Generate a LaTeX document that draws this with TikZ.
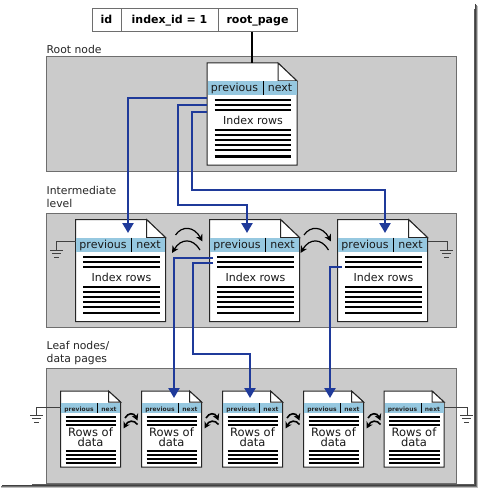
\documentclass[tikz,border=0pt]{standalone}
\usepackage{fontspec}
\setmainfont{DejaVu Sans}
\usetikzlibrary{arrows.meta}
\definecolor{panelgray}{HTML}{CBCBCB}
\definecolor{bandblue}{HTML}{96C8E0}
\definecolor{linkblue}{HTML}{1F3A9A}
\definecolor{edgegray}{HTML}{6E6E6E}
\tikzset{
  panel/.style={draw=edgegray,line width=1pt,fill=panelgray},
  pagebody/.style={draw=black!85,line width=1pt,fill=white,line join=miter},
  band/.style={fill=bandblue,draw=none},
  rowline/.style={draw=black,line width=2pt},
  leafrow/.style={draw=black,line width=1.8pt},
  link/.style={draw=linkblue,line width=2.4pt,-{Triangle[length=10pt,width=11pt]}},
  bond/.style={draw=black,line width=1.2pt,-{Stealth[length=7pt,width=7pt]}},
  leafbond/.style={draw=black,line width=1.6pt,-{Stealth[length=6.5pt,width=7pt]}},
  wire/.style={draw=black!75,line width=1pt},
  tablecell/.style={draw=edgegray,line width=1pt,fill=white,minimum height=22.5pt,inner sep=0pt,text height=9pt,text depth=2pt,font=\fontsize{11}{12}\selectfont\bfseries},
  label/.style={font=\fontsize{10.8}{13}\selectfont,anchor=west,inner sep=0pt,text=black!85,align=left},
  bigtext/.style={font=\fontsize{11}{12}\selectfont,inner sep=0pt,text=black!90,anchor=base},
  leaftext/.style={font=\fontsize{6}{8}\selectfont\bfseries,inner sep=0pt,text=black!85,anchor=base},
  datatext/.style={font=\fontsize{11.5}{10}\selectfont,inner sep=0pt,align=center,text=black!90},
}
% #1 name, #2 left x, #3 top y
\newcommand{\bigpage}[3]{%
  \path[pagebody] (#2,#3) -- ++(71,0) -- ++(19,18) -- ++(0,84) -- ++(-90,0) -- cycle;
  \path[draw=black!85,line width=1pt,fill=white] (#2+71,#3) -- ++(0,18) -- ++(19,0) -- cycle;
  \fill[band] (#2+0.5,#3+18) rectangle (#2+89.5,#3+32);
  \draw[black,line width=1pt] (#2+56,#3+18) -- (#2+56,#3+32);
  \node[bigtext] (#1-prev) at (#2+27.5,#3+28.7) {previous};
  \node[bigtext] (#1-next) at (#2+73,#3+28.7) {next};
  \foreach \r in {37.5,42.5,47.5,67.5,72.5,77.5,82.5,87.5,93.5}
    \draw[rowline] (#2+7.5,#3+\r) -- (#2+84,#3+\r);
  \node[bigtext] (#1-text) at (#2+46,#3+61.5) {Index rows};
  \coordinate (#1-top) at (#2+45,#3);
}
\newcommand{\leafpage}[3]{%
  \path[pagebody] (#2,#3) -- ++(48,0) -- ++(12,11) -- ++(0,65) -- ++(-60,0) -- cycle;
  \path[draw=black!85,line width=1pt,fill=white] (#2+48,#3) -- ++(0,11) -- ++(12,0) -- cycle;
  \fill[band] (#2+0.5,#3+12) rectangle (#2+59.5,#3+22);
  \draw[black,line width=1pt] (#2+37,#3+12) -- (#2+37,#3+22);
  \node[leaftext] (#1-prev) at (#2+18.5,#3+20) {previous};
  \node[leaftext] (#1-next) at (#2+48.5,#3+20) {next};
  \foreach \r in {26,30,34,60,64,68,72}
    \draw[leafrow] (#2+5,#3+\r) -- (#2+55.5,#3+\r);
  \node[datatext] (#1-text) at (#2+30,#3+46) {Rows of\\data};
}
\newcommand{\groundsym}[2]{%
  \draw[wire] (#1-6.5,#2) -- (#1+6.5,#2);
  \draw[wire] (#1-4.5,#2+3.5) -- (#1+4.5,#2+3.5);
  \draw[wire] (#1-2.2,#2+7) -- (#1+2.2,#2+7);
}
\begin{document}
\begin{tikzpicture}[x=1pt,y=-1pt]
\useasboundingbox (0,0) rectangle (479,489);
\fill[white] (0,0) rectangle (479,489);
% outer frame shadow
\draw[black!25,line width=1pt] (477,6) -- (477,487) -- (1,487);
\draw[black!55,line width=1pt] (476,5) -- (476,486) -- (1,486);
\draw[black!75,line width=1pt] (475,4) -- (475,485) -- (2,485);
\draw[black!65,line width=1pt] (474,9) -- (474,484) -- (32,484);
% panels
\path[panel] (46,57) rectangle (456.5,171);
\path[panel] (46,213) rectangle (456.5,327);
\path[panel] (46,368) rectangle (456.5,483);
\node[label] (lroot) at (46.5,49.5) {Root node};
\node[label] (lint) at (46.5,197) {Intermediate\\level};
\node[label] (lleaf) at (46.5,353) {Leaf nodes/\\data pages};
% table
\node[tablecell,minimum width=29pt,anchor=north west] (tid) at (91.5,8.5) {id};
\node[tablecell,minimum width=97pt,anchor=north west] (tidx) at (120.5,8.5) {index\_id = 1};
\node[tablecell,minimum width=79pt,anchor=north west] (troot) at (217.5,8.5) {root\_page};
% pages
\bigpage{r}{207}{63}
\bigpage{a}{75.5}{219.5}
\bigpage{b}{209.5}{219.5}
\bigpage{c}{337.5}{219.5}
\leafpage{p}{60.5}{391}
\leafpage{q}{141.5}{391}
\leafpage{s}{222.5}{391}
\leafpage{t}{303.5}{391}
\leafpage{u}{384}{391}
\draw[black,line width=2pt] (troot.south -| r-top) -- (r-top);
% links root -> intermediate
\coordinate (ra) at (207,98);
\coordinate (rb) at (207,105);
\coordinate (rc) at (207,112);
\coordinate (at) at (128,233);
\coordinate (bt) at (247,233);
\coordinate (ct) at (385,233);
\draw[link] (ra) -| (at);
\draw[link] (rb) -- (178,105) -- (178,205) -- (247,205) -- (bt);
\draw[link] (rc) -- (192,112) -- (192,190) -- (385,190) -- (ct);
% links intermediate -> leaf
\coordinate (ba) at (213,258);
\coordinate (bb) at (213,263);
\coordinate (cc) at (342,267);
\coordinate (qt) at (174,398);
\coordinate (st) at (250,398);
\coordinate (tt) at (330,398);
\draw[link] (ba) -| (qt);
\draw[link] (bb) -- (193,263) -- (193,354) -- (250,354) -- (st);
\draw[link] (cc) -| (tt);
% bonds
\foreach \dx in {0,128.5}{
  \draw[bond] (175.5+\dx,235) .. controls (182+\dx,225.5) and (194+\dx,226) .. (202.5+\dx,241.5);
  \draw[bond] (200+\dx,250) .. controls (193+\dx,238) and (181+\dx,238) .. (172+\dx,253);
}
\foreach \dx in {0,81,162,243}{
  \draw[leafbond] (125+\dx,418) .. controls (128+\dx,412.5) and (134+\dx,412.5) .. (137.5+\dx,420.5);
  \draw[leafbond] (137.5+\dx,424.5) .. controls (134+\dx,419.5) and (128+\dx,420.5) .. (123.5+\dx,428.5);
}
% grounds
\draw[wire] (75.5,241.7) -- (56,241.7) -- (56,250);
\groundsym{56.5}{250}
\draw[wire] (428,241.7) -- (447,241.7) -- (447,250);
\groundsym{446.5}{250}
\draw[wire] (60.5,407.7) -- (36,407.7) -- (36,415);
\groundsym{36.5}{415}
\draw[wire] (444,407.7) -- (467,407.7) -- (467,415);
\groundsym{466.5}{415}
\end{tikzpicture}
\end{document}
